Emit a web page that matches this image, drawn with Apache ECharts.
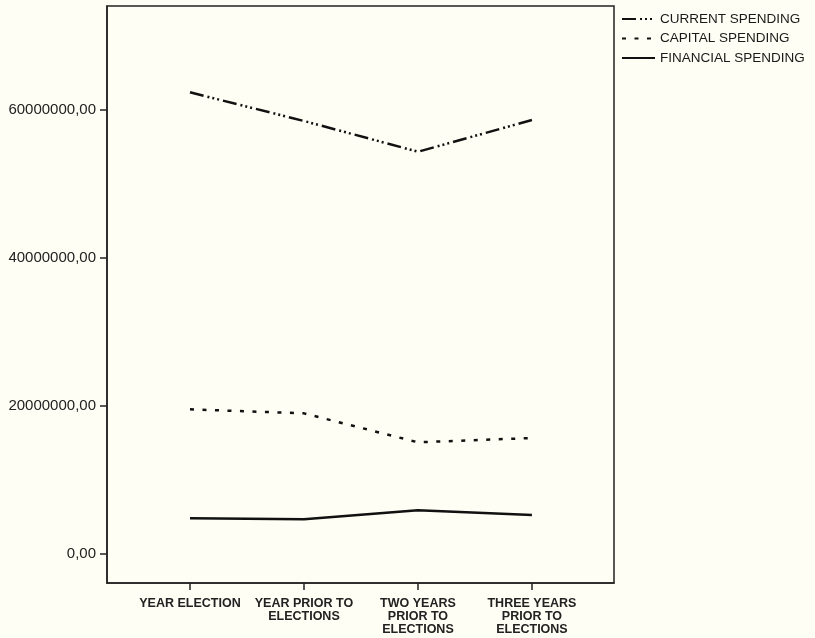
<!DOCTYPE html>
<html>
<head>
<meta charset="utf-8">
<script src="https://cdn.jsdelivr.net/npm/echarts@6/dist/echarts.min.js"></script>
<style>
html,body{margin:0;padding:0;background:#fefef4;}
#chart{width:815px;height:638px;}
</style>
</head>
<body>
<div id="chart"></div>
<script>
const categories = ['YEAR ELECTION', 'YEAR PRIOR TO\nELECTIONS', 'TWO YEARS\nPRIOR TO\nELECTIONS', 'THREE YEARS\nPRIOR TO\nELECTIONS'];
const seriesNames = ['CURRENT SPENDING', 'CAPITAL SPENDING', 'FINANCIAL SPENDING'];
const currentSpending = [62320000, 58450000, 54300000, 58580000];
const capitalSpending = [19530000, 18990000, 15080000, 15660000];
const financialSpending = [4820000, 4680000, 5900000, 5260000];
const yTicks = [0, 20000000, 40000000, 60000000];

const toPairs = arr => arr.map((v, i) => [i, v]);
const catIdx = categories.map((c, i) => i);

const chart = echarts.init(document.getElementById('chart'), null, {renderer: 'canvas'});
const font = 'Liberation Sans, Arial, sans-serif';
chart.setOption({
  backgroundColor: '#fefef4',
  animation: false,
  grid: {
    left: 107, right: 201, top: 6, bottom: 55,
    show: true, borderColor: '#222', borderWidth: 1.5, backgroundColor: '#fefef4'
  },
  legend: {
    orient: 'vertical', left: 616, top: 7,
    itemWidth: 33, itemHeight: 12, itemGap: 5.5, itemTextGap: 7,
    itemStyle: {opacity: 0, borderWidth: 0},
    textStyle: {fontFamily: font, fontSize: 13.5, color: '#1a1a1a'},
    data: seriesNames
  },
  xAxis: {
    type: 'value', min: -0.728, max: 3.72,
    splitLine: {show: false},
    axisLine: {show: true, onZero: false, lineStyle: {color: '#222', width: 1.5}},
    axisTick: {show: true, customValues: catIdx, length: 7, inside: false, lineStyle: {color: '#222', width: 1.5}},
    axisLabel: {
      customValues: catIdx,
      formatter: v => categories[Math.round(v)] || '',
      fontFamily: font, fontSize: 12.5, fontWeight: 'bold', color: '#222',
      lineHeight: 13, margin: 14, align: 'center'
    }
  },
  yAxis: {
    type: 'value', min: -3910000, max: 73970000,
    splitLine: {show: false},
    axisLine: {show: true, onZero: false, lineStyle: {color: '#222', width: 1.5}},
    axisTick: {show: true, customValues: yTicks, length: 7, lineStyle: {color: '#222', width: 1.5}},
    axisLabel: {
      customValues: yTicks,
      formatter: v => v.toFixed(2).replace('.', ','),
      fontFamily: font, fontSize: 15, color: '#222', margin: 11
    }
  },
  series: [
    {
      name: seriesNames[0], type: 'line', data: toPairs(currentSpending),
      symbol: 'none', itemStyle: {color: '#111'},
      lineStyle: {color: '#111', width: 2.5, type: [14, 4, 2, 3, 2, 3, 2, 4]}
    },
    {
      name: seriesNames[1], type: 'line', data: toPairs(capitalSpending),
      symbol: 'none', itemStyle: {color: '#111'},
      lineStyle: {color: '#111', width: 2.5, type: [4, 8.5]}
    },
    {
      name: seriesNames[2], type: 'line', data: toPairs(financialSpending),
      symbol: 'none', itemStyle: {color: '#111'},
      lineStyle: {color: '#111', width: 2.5, type: 'solid'}
    }
  ]
});
</script>
</body>
</html>
